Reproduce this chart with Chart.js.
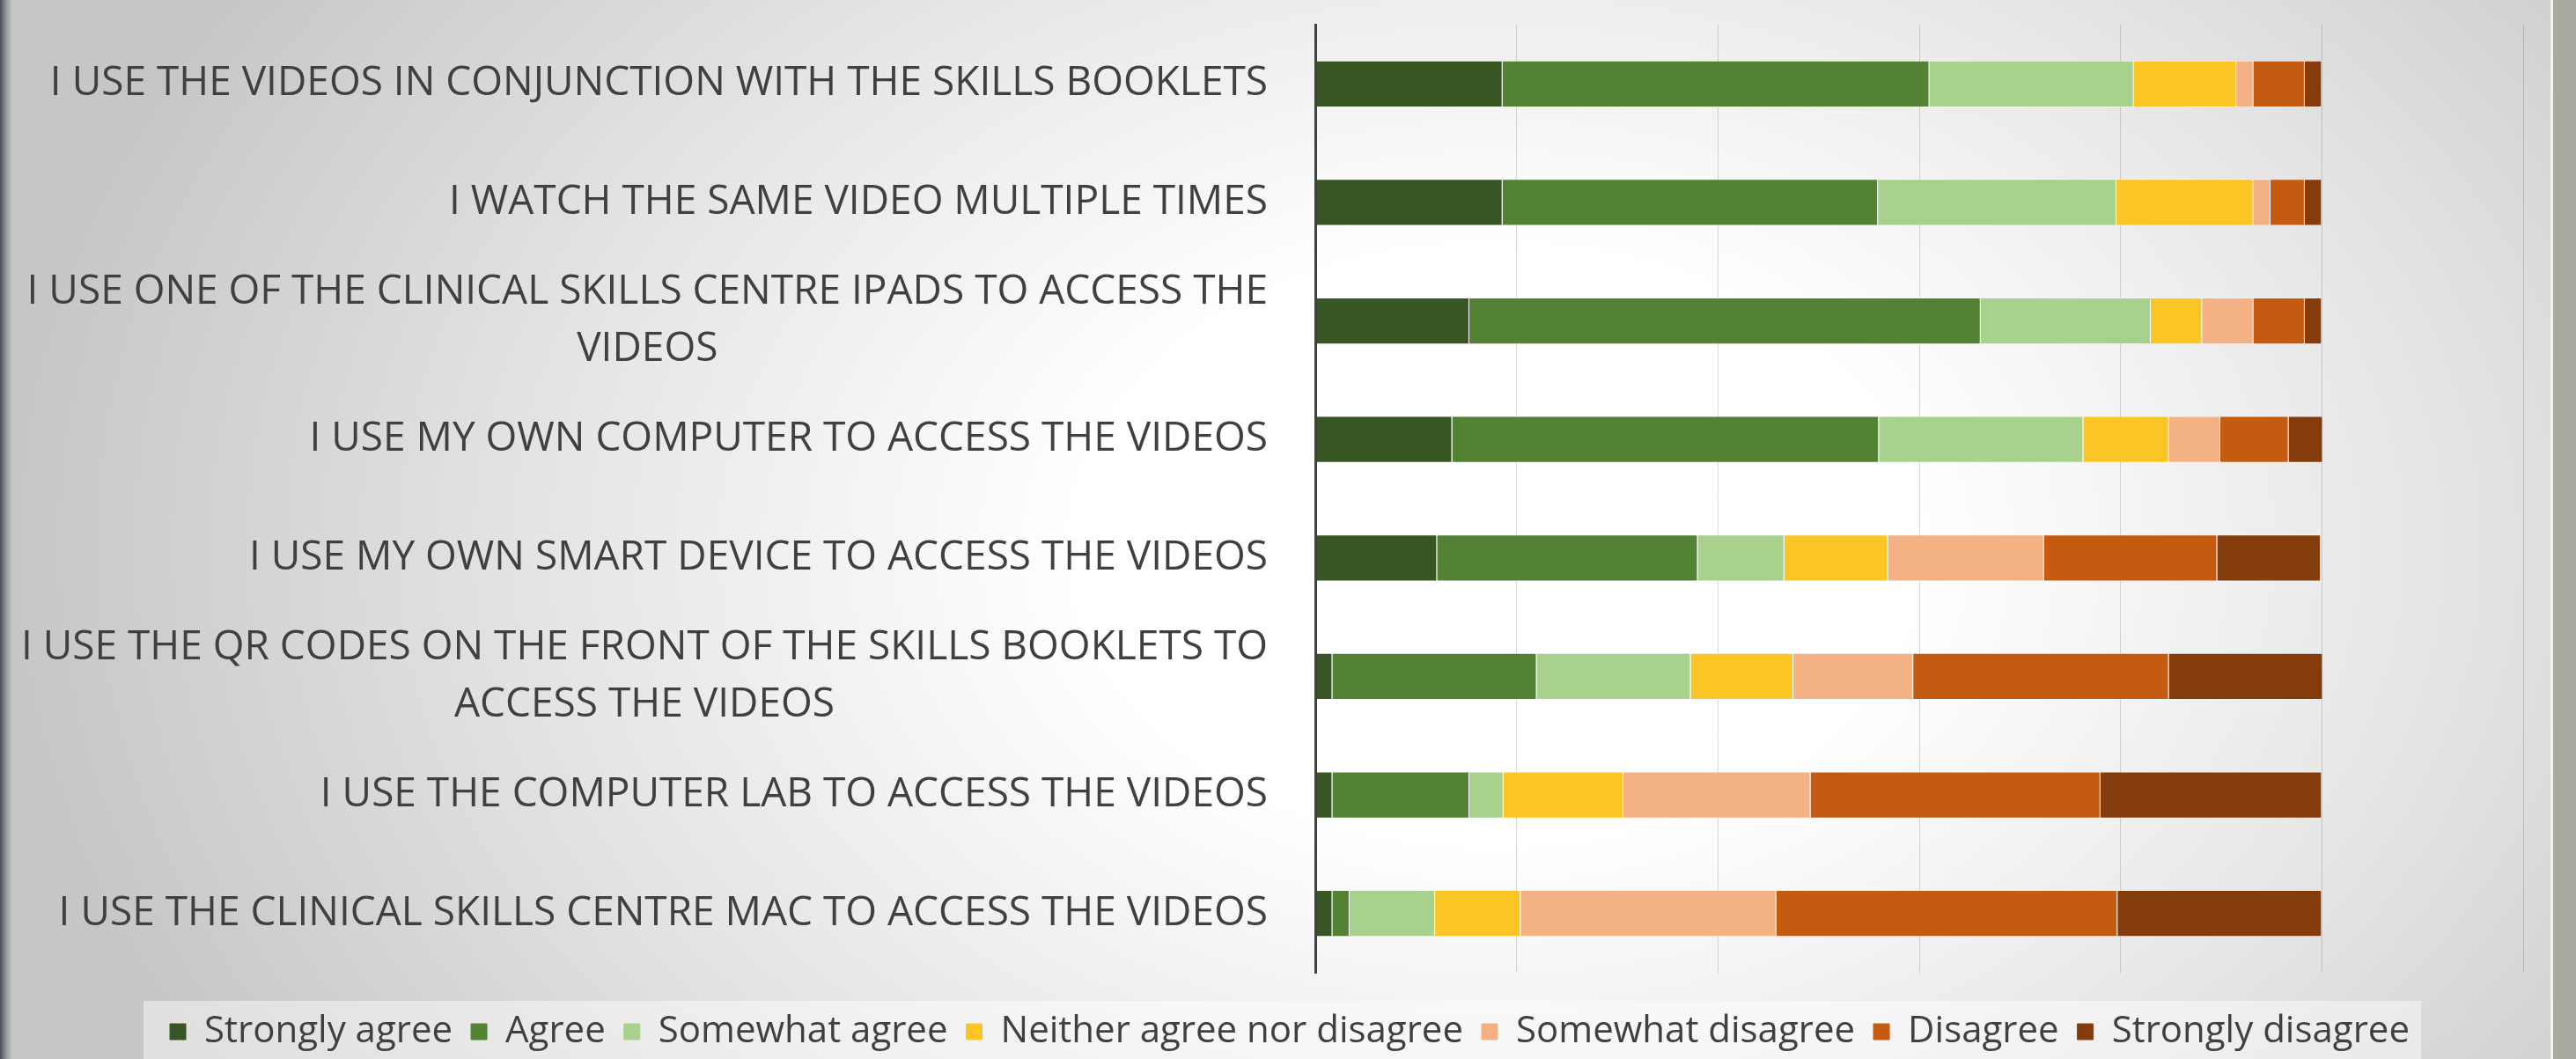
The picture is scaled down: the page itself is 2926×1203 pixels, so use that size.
<!DOCTYPE html>
<html>
<head>
<meta charset="utf-8">
<script src="https://cdn.jsdelivr.net/npm/chart.js@4.4.0/dist/chart.umd.min.js"></script>
<style>
  html, body { margin: 0; padding: 0; width: 2926px; height: 1203px; overflow: hidden; }
  body {
    position: relative;
    background: radial-gradient(ellipse 1700px 1200px at 1700px 620px, #ffffff 0%, #ffffff 28%, #e6e6e6 62%, #c6c6c6 100%);
  }
  #wrap { position: absolute; left: 0; top: 0; width: 2926px; height: 1203px; }
  .edgeL { position: absolute; left: 0; top: 0; width: 14px; height: 1203px;
           background: linear-gradient(to right, #474a53, #8a8c92 40%, rgba(200,200,200,0) 100%); }
  .edgeR { position: absolute; left: 2897px; top: 0; width: 29px; height: 1203px;
           background: #abaaa1; border-left: 3px solid #f2f2f2; box-sizing: border-box; }
</style>
</head>
<body>
<div id="wrap"><canvas id="likertChart"></canvas></div>
<div class="edgeL"></div>
<div class="edgeR"></div>
<script>
// statements, as they wrap on the slide
const statements = [
  ['I USE THE VIDEOS IN CONJUNCTION WITH THE SKILLS BOOKLETS'],
  ['I WATCH THE SAME VIDEO MULTIPLE TIMES'],
  ['I USE ONE OF THE CLINICAL SKILLS CENTRE IPADS TO ACCESS THE', 'VIDEOS'],
  ['I USE MY OWN COMPUTER TO ACCESS THE VIDEOS'],
  ['I USE MY OWN SMART DEVICE TO ACCESS THE VIDEOS'],
  ['I USE THE QR CODES ON THE FRONT OF THE SKILLS BOOKLETS TO', 'ACCESS THE VIDEOS'],
  ['I USE THE COMPUTER LAB TO ACCESS THE VIDEOS'],
  ['I USE THE CLINICAL SKILLS CENTRE MAC TO ACCESS THE VIDEOS']
];
const responses = ['Strongly agree', 'Agree', 'Somewhat agree', 'Neither agree nor disagree',
                   'Somewhat disagree', 'Disagree', 'Strongly disagree'];
const colors = ['#375623', '#548235', '#a9d18e', '#fcc526', '#f4b183', '#c55a11', '#843c0c'];

// % of respondents per statement (same order as statements)
const stronglyAgree    = [18.6, 18.6, 15.3, 13.6, 12.1,  1.7,  1.7,  1.7];
const agree            = [42.4, 37.3, 50.8, 42.4, 25.9, 20.3, 13.6,  1.7];
const somewhatAgree    = [20.3, 23.7, 16.9, 20.3,  8.6, 15.3,  3.4,  8.5];
const neither          = [10.2, 13.6,  5.1,  8.5, 10.3, 10.2, 11.9,  8.5];
const somewhatDisagree = [ 1.7,  1.7,  5.1,  5.1, 15.5, 11.9, 18.6, 25.4];
const disagree         = [ 5.1,  3.4,  5.1,  6.8, 17.2, 25.4, 28.8, 33.9];
const stronglyDisagree = [ 1.7,  1.7,  1.7,  3.4, 10.3, 15.3, 22.0, 20.3];
const xTicks = [0, 20, 40, 60, 80, 100, 120];

const series = [stronglyAgree, agree, somewhatAgree, neither, somewhatDisagree, disagree, stronglyDisagree];

const FONT = "'Open Sans', 'Noto Sans', sans-serif";
const TEXT = '#404040';

// y labels: single lines right aligned, wrapped lines centred on each other
const statementLabels = {
  id: 'statementLabels',
  afterDraw(chart) {
    const ctx = chart.ctx, y = chart.scales.y;
    const right = chart.chartArea.left - 54;
    const lh = 65;
    ctx.save();
    ctx.font = '46px ' + FONT;
    ctx.fillStyle = TEXT;
    ctx.textAlign = 'center';
    ctx.textBaseline = 'middle';
    statements.forEach((lines, i) => {
      const w = Math.max(...lines.map(t => ctx.measureText(t).width));
      const cx = right - w / 2;
      const cy = y.getPixelForTick(i);
      lines.forEach((t, j) => ctx.fillText(t, cx, cy + (j - (lines.length - 1) / 2) * lh));
    });
    ctx.restore();
  }
};

// light box behind the legend
const legendBox = {
  id: 'legendBox',
  beforeDraw(chart) {
    const lg = chart.legend;
    if (!lg || !lg.legendHitBoxes.length) return;
    const hb = lg.legendHitBoxes;
    const x0 = hb[0].left - 30;
    const x1 = hb[hb.length - 1].left + hb[hb.length - 1].width + 13;
    const ctx = chart.ctx;
    ctx.save();
    ctx.fillStyle = 'rgba(255,255,255,0.45)';
    ctx.fillRect(x0, 1137, x1 - x0, chart.height - 1137);
    ctx.restore();
  }
};

new Chart(document.getElementById('likertChart'), {
  type: 'bar',
  data: {
    labels: statements,
    datasets: series.map((d, i) => ({
      label: responses[i],
      data: d,
      backgroundColor: colors[i],
      borderColor: 'rgba(255,255,255,0.55)',
      borderWidth: 1,
      barPercentage: 0.395,
      categoryPercentage: 1
    }))
  },
  options: {
    indexAxis: 'y',
    responsive: true,
    maintainAspectRatio: false,
    devicePixelRatio: 1,
    animation: false,
    layout: { padding: { top: 28, right: 60, left: 64, bottom: 0 } },
    scales: {
      x: {
        stacked: true,
        min: 0, max: 120,
        afterBuildTicks: s => { s.ticks = xTicks.map(v => ({ value: v })); },
        afterFit: s => { s.height = 0; },
        ticks: { display: false },
        grid: { color: 'rgba(0,0,0,0.15)', lineWidth: 1, drawTicks: false },
        border: { display: false }
      },
      y: {
        stacked: true,
        afterFit: s => { s.width = 1430; },
        ticks: { display: false },
        grid: { display: false, drawTicks: false },
        border: { display: true, color: '#404040', width: 3, z: 1 }
      }
    },
    plugins: {
      tooltip: { enabled: false },
      legend: {
        position: 'bottom',
        title: { display: true, text: ' ', font: { size: 10 }, padding: { top: 13, bottom: 0 } },
        labels: {
          font: { family: FONT, size: 42 },
          color: TEXT,
          boxWidth: 18,
          boxHeight: 18,
          padding: 21,
          generateLabels: chart => chart.data.datasets.map((ds, i) => ({
            text: ds.label,
            fillStyle: ds.backgroundColor,
            strokeStyle: ds.backgroundColor,
            lineWidth: 1,
            fontColor: TEXT,
            datasetIndex: i
          }))
        }
      }
    }
  },
  plugins: [statementLabels, legendBox]
});
</script>
</body>
</html>
